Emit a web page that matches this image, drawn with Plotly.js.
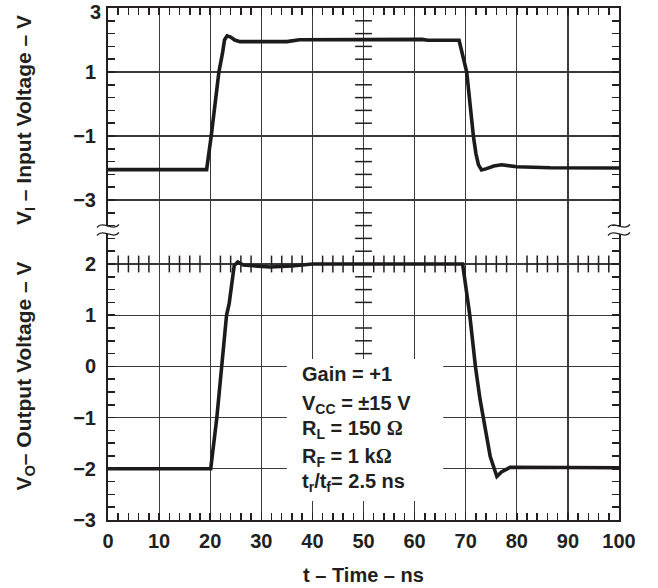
<!DOCTYPE html>
<html><head><meta charset="utf-8">
<script src="https://cdn.plot.ly/plotly-3.0.1.min.js"></script>
<style>html,body{margin:0;padding:0;background:#fff}#chart{width:658px;height:588px}</style>
</head><body><div id="chart"></div>
<script>
// ---- data ----
const timeIn = [0, 19.3, 20.2, 21.7, 22.4, 22.8, 23.3, 24.0, 24.8, 25.8, 35.0, 37.5, 61.5, 62.5, 68.7, 69.5, 70.2, 71.5, 72.0, 72.5, 73.1, 74.1, 75.5, 77.0, 78.5, 80.0, 86.5, 100];
const vIn    = [-2.05, -2.05, -1.0, 1.0, 1.58, 2.0, 2.13, 2.09, 2.0, 1.95, 1.95, 2.01, 2.02, 1.99, 1.99, 1.5, 1.0, -1.0, -1.55, -1.9, -2.06, -2.02, -1.94, -1.9, -1.93, -1.96, -1.99, -2.0];
const timeOut = [0, 20.1, 21.3, 22.2, 23.2, 23.7, 24.7, 25.4, 26.5, 31.7, 36.0, 40.0, 69.4, 70.8, 71.9, 72.8, 73.4, 74.8, 76.1, 77.0, 78.7, 86.5, 100];
const vOut    = [-2.0, -2.0, -1.0, 0.0, 1.0, 1.22, 1.97, 2.04, 1.98, 1.94, 1.96, 2.0, 2.0, 1.0, 0.0, -0.64, -1.0, -1.76, -2.15, -2.06, -1.97, -1.98, -1.98];
const xTicks = [0, 10, 20, 30, 40, 50, 60, 70, 80, 90, 100];
const yTicksIn = [3, 1, -1, -3];
const yTicksOut = [2, 1, 0, -1, -2, -3];
const notes = ['Gain = +1',
  'V<sub>CC</sub> = ±15 V',
  'R<sub>L</sub> = 150 <span style="font-family:\'Liberation Serif\',serif">Ω</span>',
  'R<sub>F</sub> = 1 k<span style="font-family:\'Liberation Serif\',serif">Ω</span>',
  't<sub>r</sub>/t<sub>f</sub>= 2.5 ns'];
const noteY = [-0.15, -0.74, -1.24, -1.77, -2.27];

// ---- styling ----
const ink = '#231f20';
const gridC = '#3a3a3a';
const fam = 'Liberation Sans, Arial, Helvetica, sans-serif';
const tickFont = {family: fam, size: 20, weight: 'bold', color: ink};
const xTitleFont = {family: fam, size: 20, weight: 'bold', color: ink};
const yTitleFont = {family: fam, size: 21, weight: 'bold', color: ink};
const fmt = v => v < 0 ? '\u2212' + Math.abs(v) : String(v);

// decorative crosshair tick positions (graticule)
const crossTop = [], crossBot = [], crossX = [];
for (let k = 1; k <= 17; k++) { const v = +(3 - 0.4 * k).toFixed(2); if (Math.abs((v - 1) / 2 - Math.round((v - 1) / 2)) > 1e-6) crossTop.push(v); }
for (let k = 1; k <= 22; k++) { const v = +(2.75 - 0.25 * k + 0.25).toFixed(2); if (v % 1 !== 0 && !(v < 0.15 && v > -2.63)) crossBot.push(v); }
for (let v = 2; v < 100; v += 2) { if (v % 10 !== 0) crossX.push(v); }

const traces = [
  {x: timeIn, y: vIn, xaxis: 'x2', yaxis: 'y', mode: 'lines', line: {color: '#1c1a1b', width: 3.6}, hoverinfo: 'skip'},
  {x: timeOut, y: vOut, xaxis: 'x', yaxis: 'y2', mode: 'lines', line: {color: '#1c1a1b', width: 3.6}, hoverinfo: 'skip'},
  {x: crossTop.map(() => 50), y: crossTop, xaxis: 'x2', yaxis: 'y', mode: 'markers', marker: {symbol: 'line-ew', size: 12, line: {color: ink, width: 1.5}}, hoverinfo: 'skip'},
  {x: crossBot.map(() => 50), y: crossBot, xaxis: 'x', yaxis: 'y2', mode: 'markers', marker: {symbol: 'line-ew', size: 12, line: {color: ink, width: 1.5}}, hoverinfo: 'skip'},
  {x: crossX, y: crossX.map(() => 2), xaxis: 'x', yaxis: 'y2', mode: 'markers', marker: {symbol: 'line-ns', size: 12, line: {color: ink, width: 1.5}}, hoverinfo: 'skip'},
  {x: [0], y: [0], xaxis: 'x2', yaxis: 'y3', mode: 'markers', marker: {opacity: 0, size: 1}, hoverinfo: 'skip'}
];

const minorX = {ticks: 'inside', tick0: 0, dtick: 2, ticklen: 7, tickwidth: 1.5, tickcolor: ink, showgrid: false};
const base = {showline: true, linecolor: ink, linewidth: 2, showgrid: true, gridcolor: gridC, gridwidth: 1.2,
  zeroline: false, ticks: 'inside', ticklen: 7, tickwidth: 1.5, tickcolor: ink, tickfont: tickFont,
  fixedrange: true};

// break symbols (paper coords from px)
const L = 108, R = 619, T = 8, B = 520;
const px = (x) => ((x - L) / (R - L)).toFixed(4);
const py = (y) => ((B - y) / (B - T)).toFixed(4);
function tilde(cx, cy) {
  return `M ${px(cx - 11)},${py(cy + 1.5)} C ${px(cx - 5)},${py(cy - 6)} ${px(cx + 5)},${py(cy + 6)} ${px(cx + 11)},${py(cy - 1.5)}`;
}
const shapes = [
  {type: 'rect', xref: 'x', yref: 'y2', x0: 35.0, x1: 65.6, y0: -2.63, y1: 0.145, fillcolor: '#fff', line: {width: 0}, layer: 'between'}
];
[L, R].forEach(cx => {
  shapes.push({type: 'rect', xref: 'paper', yref: 'paper', x0: px(cx - 3), x1: px(cx + 3), y0: py(234), y1: py(226), fillcolor: '#fff', line: {width: 0}, layer: 'above'});
  shapes.push({type: 'path', xref: 'paper', yref: 'paper', path: tilde(cx, 226), line: {color: ink, width: 1.3}, layer: 'above'});
  shapes.push({type: 'path', xref: 'paper', yref: 'paper', path: tilde(cx, 234), line: {color: ink, width: 1.3}, layer: 'above'});
});

const annotations = notes.map((t, i) => ({
  text: t, x: 37.6, y: noteY[i], xref: 'x', yref: 'y2', xanchor: 'left', yanchor: 'middle',
  showarrow: false, font: {family: fam, size: 20, weight: 'bold', color: ink}
}));

const topTickVals = yTicksIn.slice(1);
const layout = {
  width: 658, height: 588,
  margin: {l: 108, r: 39, t: 8, b: 68},
  paper_bgcolor: '#fff', plot_bgcolor: '#fff',
  showlegend: false,
  xaxis: Object.assign({}, base, {anchor: 'y2', range: [0, 100], tickvals: xTicks, ticktext: xTicks.map(String),
    minor: minorX, ticklabelstandoff: 2,
    title: {text: 't – Time – ns', font: xTitleFont, standoff: 17}}),
  xaxis2: Object.assign({}, base, {anchor: 'y', matches: 'x', side: 'top', range: [0, 100], tickvals: xTicks,
    showticklabels: false, minor: minorX}),
  yaxis: Object.assign({}, base, {anchor: 'x2', domain: [0.5625, 1], range: [-4, 3], tickvals: topTickVals,
    ticktext: topTickVals.map(fmt),
    mirror: 'ticks', ticklabelstandoff: 6,
    minor: {ticks: 'inside', tick0: 1, dtick: 0.4, ticklen: 7, tickwidth: 1.5, tickcolor: ink, showgrid: false},
    title: {text: 'V<sub>I</sub> – Input Voltage – V', font: yTitleFont, standoff: 36}}),
  yaxis3: {overlaying: 'y', anchor: 'x2', side: 'left', range: [-4, 3], tickvals: [yTicksIn[0]], ticktext: [fmt(yTicksIn[0])],
    ticks: '', showgrid: false, zeroline: false, showline: false, tickfont: tickFont, tickmode: 'array',
    ticklabelstandoff: 6, ticklabelshift: 4, ticklabeloverflow: 'allow', fixedrange: true},
  yaxis2: Object.assign({}, base, {anchor: 'x', domain: [0, 0.5625], range: [-3, 2.625], tickvals: yTicksOut,
    ticktext: yTicksOut.map(fmt),
    mirror: 'ticks', ticklabelstandoff: 6,
    minor: {ticks: 'inside', tick0: 0, dtick: 0.25, ticklen: 7, tickwidth: 1.5, tickcolor: ink, showgrid: false},
    title: {text: 'V<sub>O</sub>– Output Voltage – V', font: yTitleFont, standoff: 36}}),
  shapes: shapes,
  annotations: annotations
};

Plotly.newPlot('chart', traces, layout, {staticPlot: true, displayModeBar: false});
</script>
</body></html>
